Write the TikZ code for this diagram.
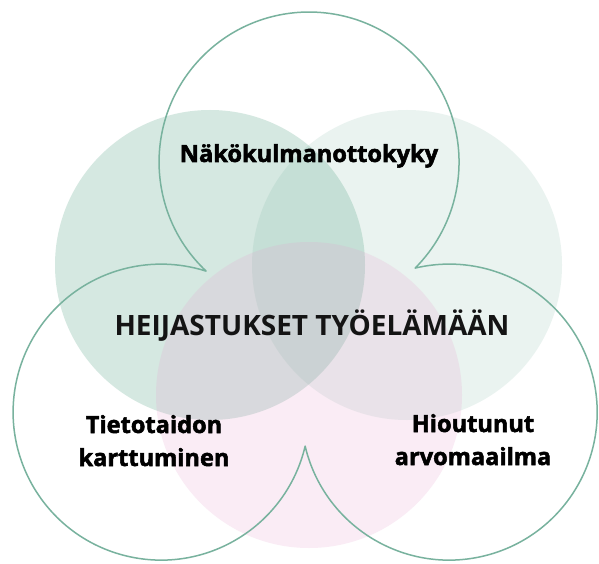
\documentclass[tikz,border=0pt]{standalone}
\usepackage{fontspec}
\setmainfont{Open Sans}
\newfontfamily\heavyfont{Open Sans}[BoldFeatures={FakeBold=2.2}]
\definecolor{mint}{RGB}{94,168,140}
\definecolor{rose}{RGB}{230,160,205}
\definecolor{outline}{RGB}{120,178,158}
\tikzset{
  blob/.style={draw=none},
  trefoil/.style={draw=outline, line width=1.5pt, line join=round},
  label/.style={font=\heavyfont\bfseries\fontsize{23.6}{33}\selectfont, text=black, inner sep=0pt, align=center, anchor=base},
  title/.style={font=\bfseries\fontsize{28}{33}\selectfont, text=black!92, inner sep=0pt, anchor=base}
}
\begin{document}
\begin{tikzpicture}[x=1pt,y=1pt]
\useasboundingbox (0,0) rectangle (599,563);
\fill[white] (0,0) rectangle (599,563);
% filled translucent circles
\fill[blob, mint, fill opacity=0.26] (210,298) circle (155);
\fill[blob, mint, fill opacity=0.13] (407,298) circle (155);
\fill[blob, rose, fill opacity=0.2] (309,168) circle (153);
% trefoil outline
\coordinate (L) at (206,292);
\draw[trefoil] (L) arc[start angle=226.6, end angle=-45, radius=150]
  arc[start angle=103.3, end angle=-166.7, radius=148]
  arc[start angle=-13.3, end angle=-287.7, radius=148] -- cycle;
% texts
\node[label] (top) at (309,401) {Näkökulmanottokyky};
\node[title] (mid) at (312,228) {HEIJASTUKSET TYÖELÄMÄÄN};
\node[label] (left) at (154,97) {Tietotaidon\\karttuminen};
\node[label] (right) at (473,98) {Hioutunut\\arvomaailma};
\end{tikzpicture}
\end{document}
